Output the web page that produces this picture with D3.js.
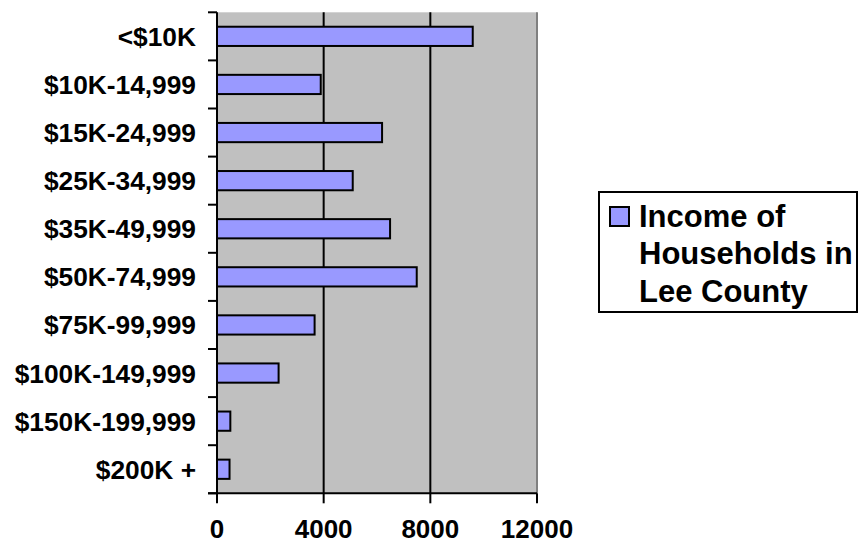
<!DOCTYPE html>
<html><head><meta charset="utf-8">
<script src="https://cdn.jsdelivr.net/npm/d3@7"></script>
<style>
html,body{margin:0;padding:0;background:#fff;}
svg{display:block;font-family:"Liberation Sans",Arial,sans-serif;font-weight:bold;}
</style></head>
<body>
<svg id="chart" width="859" height="544"></svg>
<script>
const categories = ["<$10K","$10K-14,999","$15K-24,999","$25K-34,999","$35K-49,999","$50K-74,999","$75K-99,999","$100K-149,999","$150K-199,999","$200K +"];
const values = [9590, 3890, 6190, 5090, 6490, 7490, 3660, 2310, 500, 470];
const xTicks = [0, 4000, 8000, 12000];
const gridValues = [4000, 8000];
const seriesName = ["Income of", "Households in", "Lee County"];

(function () {
const svg = d3.select("#chart");
const pL = 217, pR = 537, pT = 12.3, pB = 493.3;
const x = d3.scaleLinear().domain([0, 12000]).range([pL, pR]);
const y = d3.scaleBand().domain(categories).range([pT, pB]).paddingInner(0.6).paddingOuter(0.3);

// plot area
svg.append("rect").attr("x", pL).attr("y", pT).attr("width", pR - pL).attr("height", pB - pT)
  .attr("fill", "#C0C0C0");
svg.append("line").attr("x1", pR).attr("x2", pR).attr("y1", pT).attr("y2", pB)
  .attr("stroke", "#808080").attr("stroke-width", 2);

// gridlines
svg.selectAll(".grid").data(gridValues).enter().append("line")
  .attr("x1", d => x(d)).attr("x2", d => x(d)).attr("y1", pT).attr("y2", pB)
  .attr("stroke", "#000").attr("stroke-width", 2);

// bars
svg.selectAll(".bar").data(values).enter().append("rect")
  .attr("x", x(0)).attr("y", (d, i) => y(categories[i]))
  .attr("width", d => x(d) - x(0)).attr("height", y.bandwidth())
  .attr("fill", "#9999FF").attr("stroke", "#000").attr("stroke-width", 2);

// left axis
svg.append("line").attr("x1", pL).attr("x2", pL).attr("y1", pT).attr("y2", pB + 1)
  .attr("stroke", "#000").attr("stroke-width", 2);
const bounds = categories.map(c => y(c) - y.step() * y.paddingInner() / 2);
bounds.push(pB);
svg.selectAll(".ytick").data(bounds).enter().append("line")
  .attr("x1", pL - 9).attr("x2", pL).attr("y1", d => d).attr("y2", d => d)
  .attr("stroke", "#000").attr("stroke-width", 2);
svg.selectAll(".ylab").data(categories).enter().append("text")
  .attr("x", 196).attr("y", d => y(d) + y.bandwidth() / 2 + 9.5)
  .attr("text-anchor", "end").attr("font-size", 26.3).text(d => d);

// bottom axis
svg.append("line").attr("x1", pL - 9).attr("x2", pR).attr("y1", pB).attr("y2", pB)
  .attr("stroke", "#000").attr("stroke-width", 2);
svg.selectAll(".xtick").data(xTicks).enter().append("line")
  .attr("x1", d => x(d)).attr("x2", d => x(d)).attr("y1", pB).attr("y2", pB + 10)
  .attr("stroke", "#000").attr("stroke-width", 2);
svg.selectAll(".xlab").data(xTicks).enter().append("text")
  .attr("x", d => x(d)).attr("y", 538)
  .attr("text-anchor", "middle").attr("font-size", 26).text(d => d);

// legend
svg.append("rect").attr("x", 599).attr("y", 192).attr("width", 258).attr("height", 120)
  .attr("fill", "#fff").attr("stroke", "#000").attr("stroke-width", 2);
svg.append("rect").attr("x", 610).attr("y", 207).attr("width", 19).attr("height", 19)
  .attr("fill", "#9999FF").attr("stroke", "#000").attr("stroke-width", 2);
svg.selectAll(".leg").data(seriesName).enter().append("text")
  .attr("x", 639).attr("y", (d, i) => 227 + i * 37.3)
  .attr("font-size", 31).text(d => d);
})();
</script>
</body></html>
